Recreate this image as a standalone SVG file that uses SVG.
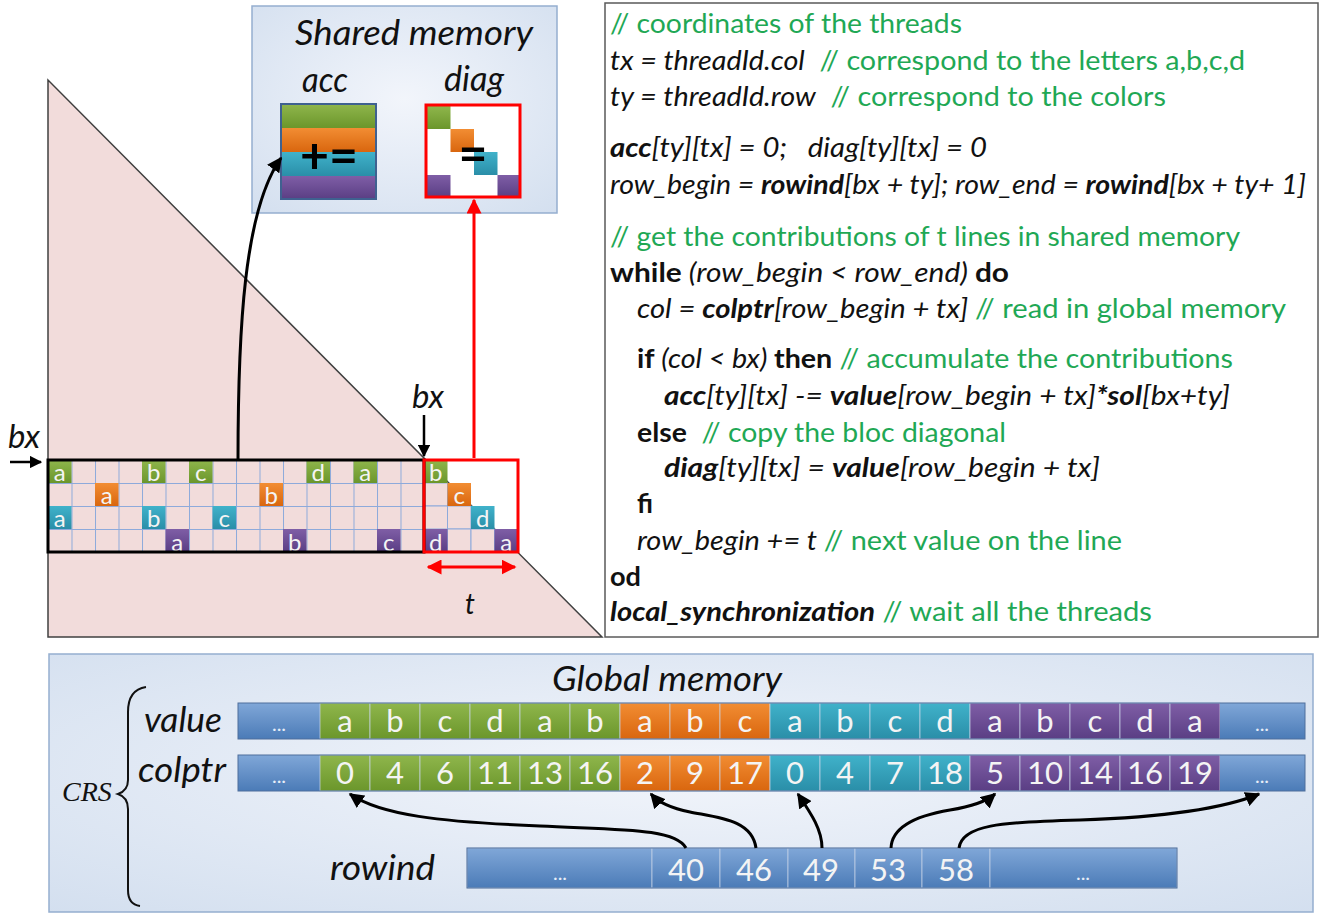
<svg xmlns="http://www.w3.org/2000/svg" width="1326" height="915" viewBox="0 0 1326 915">
<style>
.f{font-family:Lato,"Open Sans","Liberation Sans",sans-serif}
.it{font-style:italic}
.bi{font-style:italic;font-weight:bold}
.b{font-weight:bold}
.cm{fill:#1fa855}
.cl{font-family:Lato,"Open Sans","Liberation Sans",sans-serif;font-size:24px;fill:#f4f4f4;text-anchor:middle}
.gl{font-family:Lato,"Open Sans","Liberation Sans",sans-serif;font-size:31px;fill:#f4f4f4;text-anchor:middle}
.dots{font-family:Lato,"Open Sans","Liberation Sans",sans-serif;font-size:20px;fill:#e8eef8;text-anchor:middle}
.lab{font-family:Lato,"Open Sans","Liberation Sans",sans-serif;font-style:italic;fill:#111}
.pc{fill:#f2dcdb;stroke:#8eaadb;stroke-width:1}
.cs{stroke:#c9d6e8;stroke-width:1;stroke-opacity:0.7}
</style>
<defs>
<linearGradient id="gG" x1="0" y1="0" x2="0" y2="1"><stop offset="0" stop-color="#8fb64c"/><stop offset="1" stop-color="#6b962b"/></linearGradient>
<linearGradient id="gO" x1="0" y1="0" x2="0" y2="1"><stop offset="0" stop-color="#f28d33"/><stop offset="1" stop-color="#d9660e"/></linearGradient>
<linearGradient id="gT" x1="0" y1="0" x2="0" y2="1"><stop offset="0" stop-color="#40b2ca"/><stop offset="1" stop-color="#2a8ea8"/></linearGradient>
<linearGradient id="gP" x1="0" y1="0" x2="0" y2="1"><stop offset="0" stop-color="#7f5ea6"/><stop offset="1" stop-color="#5a3e84"/></linearGradient>
<linearGradient id="gB" x1="0" y1="0" x2="0" y2="1"><stop offset="0" stop-color="#80a7d8"/><stop offset="1" stop-color="#4b7bb7"/></linearGradient>
<radialGradient id="bgBlue" cx="0.5" cy="0.45" r="0.75"><stop offset="0" stop-color="#f2f5fb"/><stop offset="1" stop-color="#d3dfef"/></radialGradient>
<pattern id="grid" x="48" y="460" width="23.5" height="23" patternUnits="userSpaceOnUse"><rect width="23.5" height="23" fill="#f2dcdb"/><path d="M0,0 V23 M0,0 H23.5" stroke="#8eaadb" stroke-width="2"/></pattern>
<marker id="ah" viewBox="0 0 10 10" refX="9" refY="5" markerWidth="5" markerHeight="5" orient="auto-start-reverse" markerUnits="strokeWidth"><path d="M0,0 L10,5 L0,10 z" fill="#000"/></marker>
<marker id="ahr" viewBox="0 0 10 10" refX="9" refY="5" markerWidth="5" markerHeight="5" orient="auto-start-reverse" markerUnits="strokeWidth"><path d="M0,0 L10,5 L0,10 z" fill="#f00"/></marker>
</defs>
<rect width="1326" height="915" fill="#fff"/>

<g id="matrix">
<polygon points="48,80 48,637 602,637" fill="#f2dcdb" stroke="#404040" stroke-width="1.5"/>
<rect x="48" y="460" width="376" height="92" fill="url(#grid)"/>
<rect class="pc" x="424" y="483" width="23.5" height="23"/>
<rect class="pc" x="424" y="506" width="23.5" height="23"/>
<rect class="pc" x="447.5" y="506" width="23.5" height="23"/>
<rect class="pc" x="447.5" y="529" width="23.5" height="23"/>
<rect class="pc" x="471" y="529" width="23.5" height="23"/>
<g id="cells">
<rect x="48" y="460" width="23.5" height="23" fill="url(#gG)"/><text class="cl" x="59.7" y="481">a</text>
<rect x="142" y="460" width="23.5" height="23" fill="url(#gG)"/><text class="cl" x="153.7" y="481">b</text>
<rect x="189" y="460" width="23.5" height="23" fill="url(#gG)"/><text class="cl" x="200.7" y="481">c</text>
<rect x="306.5" y="460" width="23.5" height="23" fill="url(#gG)"/><text class="cl" x="318.2" y="481">d</text>
<rect x="353.5" y="460" width="23.5" height="23" fill="url(#gG)"/><text class="cl" x="365.2" y="481">a</text>
<rect x="424" y="460" width="23.5" height="23" fill="url(#gG)"/><text class="cl" x="435.7" y="481">b</text>
<rect x="95" y="483" width="23.5" height="23" fill="url(#gO)"/><text class="cl" x="106.7" y="504">a</text>
<rect x="259.5" y="483" width="23.5" height="23" fill="url(#gO)"/><text class="cl" x="271.2" y="504">b</text>
<rect x="447.5" y="483" width="23.5" height="23" fill="url(#gO)"/><text class="cl" x="459.2" y="504">c</text>
<rect x="48" y="506" width="23.5" height="23" fill="url(#gT)"/><text class="cl" x="59.7" y="527">a</text>
<rect x="142" y="506" width="23.5" height="23" fill="url(#gT)"/><text class="cl" x="153.7" y="527">b</text>
<rect x="212.5" y="506" width="23.5" height="23" fill="url(#gT)"/><text class="cl" x="224.2" y="527">c</text>
<rect x="471" y="506" width="23.5" height="23" fill="url(#gT)"/><text class="cl" x="482.7" y="527">d</text>
<rect x="165.5" y="529" width="23.5" height="23" fill="url(#gP)"/><text class="cl" x="177.2" y="551">a</text>
<rect x="283" y="529" width="23.5" height="23" fill="url(#gP)"/><text class="cl" x="294.7" y="551">b</text>
<rect x="377" y="529" width="23.5" height="23" fill="url(#gP)"/><text class="cl" x="388.7" y="551">c</text>
<rect x="424" y="529" width="23.5" height="23" fill="url(#gP)"/><text class="cl" x="435.7" y="551">d</text>
<rect x="494.5" y="529" width="23.5" height="23" fill="url(#gP)"/><text class="cl" x="506.2" y="551">a</text>
</g>
<rect x="48" y="460" width="376" height="92" fill="none" stroke="#000" stroke-width="3"/>
<rect x="424" y="460" width="94" height="92" fill="none" stroke="#f00" stroke-width="3"/>
<text class="lab" x="8" y="448" font-size="32" textLength="32" lengthAdjust="spacingAndGlyphs">bx</text>
<text class="lab" x="412" y="408" font-size="32" textLength="32" lengthAdjust="spacingAndGlyphs">bx</text>
<text class="lab" x="465" y="614" font-size="28">t</text>
</g>

<g id="shared">
<rect x="252" y="6" width="305" height="207" fill="url(#bgBlue)" stroke="#95aecf" stroke-width="1.5"/>
<text class="lab" x="295" y="45" font-size="35" textLength="238" lengthAdjust="spacingAndGlyphs">Shared memory</text>
<text class="lab" x="302" y="92" font-size="35" textLength="46" lengthAdjust="spacingAndGlyphs">acc</text>
<text class="lab" x="444" y="91" font-size="35" textLength="60" lengthAdjust="spacingAndGlyphs">diag</text>
<g id="acc">
<rect x="281" y="104" width="95" height="24" fill="url(#gG)"/>
<rect x="281" y="128" width="95" height="24" fill="url(#gO)"/>
<rect x="281" y="152" width="95" height="24" fill="url(#gT)"/>
<rect x="281" y="176" width="95" height="23" fill="url(#gP)"/>
<rect x="281" y="104" width="95" height="95" fill="none" stroke="#3f6190" stroke-width="2"/>
<text class="f" x="329" y="173" font-size="50" font-weight="bold" text-anchor="middle" fill="#000">+=</text>
</g>
<g id="diag">
<rect x="426" y="105" width="94" height="92" fill="#fff"/>
<rect x="427" y="106" width="23.5" height="23" fill="url(#gG)"/>
<rect x="450.5" y="129" width="23.5" height="23" fill="url(#gO)"/>
<rect x="474" y="152" width="23.5" height="23" fill="url(#gT)"/>
<rect x="427" y="175" width="23.5" height="22" fill="url(#gP)"/>
<rect x="497.5" y="175" width="22" height="22" fill="url(#gP)"/>
<text class="f" x="473" y="171" font-size="50" font-weight="bold" text-anchor="middle" fill="#000">=</text>
<rect x="426" y="105" width="94" height="92" fill="none" stroke="#f00" stroke-width="3"/>
</g>
</g>

<g id="code" class="f" font-size="27" fill="#111">
<rect x="605" y="3" width="713" height="634" fill="#fff" stroke="#5a5a5a" stroke-width="1.5"/>
<text x="610" y="33" class="cm" textLength="352" lengthAdjust="spacingAndGlyphs">// coordinates of the threads</text>
<text x="610" y="70" textLength="635" lengthAdjust="spacingAndGlyphs" xml:space="preserve"><tspan class="it">tx = threadId.col</tspan><tspan class="cm">  // correspond to the letters a,b,c,d</tspan></text>
<text x="610" y="106" textLength="556" lengthAdjust="spacingAndGlyphs" xml:space="preserve"><tspan class="it">ty = threadId.row</tspan><tspan class="cm">  // correspond to the colors</tspan></text>
<text x="610" y="157" textLength="377" lengthAdjust="spacingAndGlyphs" xml:space="preserve"><tspan class="bi">acc</tspan><tspan class="it">[ty][tx] = 0;   diag[ty][tx] = 0</tspan></text>
<text x="610" y="194" textLength="696" lengthAdjust="spacingAndGlyphs" xml:space="preserve"><tspan class="it">row_begin = </tspan><tspan class="bi">rowind</tspan><tspan class="it">[bx + ty]; row_end = </tspan><tspan class="bi">rowind</tspan><tspan class="it">[bx + ty+ 1]</tspan></text>
<text x="610" y="246" class="cm" textLength="630" lengthAdjust="spacingAndGlyphs">// get the contributions of t lines in shared memory</text>
<text x="610" y="282" textLength="399" lengthAdjust="spacingAndGlyphs" xml:space="preserve"><tspan class="b">while</tspan><tspan class="it"> (row_begin &lt; row_end) </tspan><tspan class="b">do</tspan></text>
<text x="637" y="318" textLength="649" lengthAdjust="spacingAndGlyphs" xml:space="preserve"><tspan class="it">col = </tspan><tspan class="bi">colptr</tspan><tspan class="it">[row_begin + tx] </tspan><tspan class="cm">// read in global memory</tspan></text>
<text x="637" y="368" textLength="596" lengthAdjust="spacingAndGlyphs" xml:space="preserve"><tspan class="b">if</tspan><tspan class="it"> (col &lt; bx) </tspan><tspan class="b">then</tspan><tspan class="cm"> // accumulate the contributions</tspan></text>
<text x="664" y="405" textLength="566" lengthAdjust="spacingAndGlyphs" xml:space="preserve"><tspan class="bi">acc</tspan><tspan class="it">[ty][tx] -= </tspan><tspan class="bi">value</tspan><tspan class="it">[row_begin + tx]</tspan><tspan class="bi">*sol</tspan><tspan class="it">[bx+ty]</tspan></text>
<text x="637" y="442" textLength="369" lengthAdjust="spacingAndGlyphs" xml:space="preserve"><tspan class="b">else</tspan><tspan class="cm">  // copy the bloc diagonal</tspan></text>
<text x="664" y="477" textLength="436" lengthAdjust="spacingAndGlyphs" xml:space="preserve"><tspan class="bi">diag</tspan><tspan class="it">[ty][tx] = </tspan><tspan class="bi">value</tspan><tspan class="it">[row_begin + tx]</tspan></text>
<text x="637" y="513" class="b" textLength="16" lengthAdjust="spacingAndGlyphs">fi</text>
<text x="637" y="550" textLength="485" lengthAdjust="spacingAndGlyphs" xml:space="preserve"><tspan class="it">row_begin += t </tspan><tspan class="cm">// next value on the line</tspan></text>
<text x="610" y="586" class="b" textLength="31" lengthAdjust="spacingAndGlyphs">od</text>
<text x="610" y="621" textLength="542" lengthAdjust="spacingAndGlyphs" xml:space="preserve"><tspan class="bi">local_synchronization</tspan><tspan class="cm"> // wait all the threads</tspan></text>
</g>

<g id="global">
<rect x="49" y="654" width="1264" height="258" fill="url(#bgBlue)" stroke="#95aecf" stroke-width="1.5"/>
<text class="lab" x="552" y="691" font-size="34" textLength="230" lengthAdjust="spacingAndGlyphs">Global memory</text>
<text class="lab" x="144" y="732" font-size="34" textLength="78" lengthAdjust="spacingAndGlyphs">value</text>
<text class="lab" x="138" y="782" font-size="34" textLength="88" lengthAdjust="spacingAndGlyphs">colptr</text>
<text x="62" y="801" font-family="'Liberation Serif',serif" font-style="italic" font-size="28" fill="#111">CRS</text>
<path d="M146,687 C133,689 128,698 128,712 L128,780 C128,788 124,792 118,794 C124,796 128,801 128,809 L128,890 C128,900 132,905 140,906" fill="none" stroke="#111" stroke-width="2"/>
<g id="valueRow">
<rect x="238" y="703" width="82" height="36" fill="url(#gB)"/>
<rect class="cs" x="320" y="703" width="50" height="36" fill="url(#gG)"/>
<rect class="cs" x="370" y="703" width="50" height="36" fill="url(#gG)"/>
<rect class="cs" x="420" y="703" width="50" height="36" fill="url(#gG)"/>
<rect class="cs" x="470" y="703" width="50" height="36" fill="url(#gG)"/>
<rect class="cs" x="520" y="703" width="50" height="36" fill="url(#gG)"/>
<rect class="cs" x="570" y="703" width="50" height="36" fill="url(#gG)"/>
<rect class="cs" x="620" y="703" width="50" height="36" fill="url(#gO)"/>
<rect class="cs" x="670" y="703" width="50" height="36" fill="url(#gO)"/>
<rect class="cs" x="720" y="703" width="50" height="36" fill="url(#gO)"/>
<rect class="cs" x="770" y="703" width="50" height="36" fill="url(#gT)"/>
<rect class="cs" x="820" y="703" width="50" height="36" fill="url(#gT)"/>
<rect class="cs" x="870" y="703" width="50" height="36" fill="url(#gT)"/>
<rect class="cs" x="920" y="703" width="50" height="36" fill="url(#gT)"/>
<rect class="cs" x="970" y="703" width="50" height="36" fill="url(#gP)"/>
<rect class="cs" x="1020" y="703" width="50" height="36" fill="url(#gP)"/>
<rect class="cs" x="1070" y="703" width="50" height="36" fill="url(#gP)"/>
<rect class="cs" x="1120" y="703" width="50" height="36" fill="url(#gP)"/>
<rect class="cs" x="1170" y="703" width="50" height="36" fill="url(#gP)"/>
<rect x="1220" y="703" width="85" height="36" fill="url(#gB)"/>
<rect x="238" y="703" width="1067" height="36" fill="none" stroke="#4f6f9c" stroke-width="1"/>
<text class="dots" x="279" y="731">...</text>
<text class="gl" x="345" y="732">a</text><text class="gl" x="395" y="732">b</text><text class="gl" x="445" y="732">c</text><text class="gl" x="495" y="732">d</text><text class="gl" x="545" y="732">a</text><text class="gl" x="595" y="732">b</text>
<text class="gl" x="645" y="732">a</text><text class="gl" x="695" y="732">b</text><text class="gl" x="745" y="732">c</text>
<text class="gl" x="795" y="732">a</text><text class="gl" x="845" y="732">b</text><text class="gl" x="895" y="732">c</text><text class="gl" x="945" y="732">d</text>
<text class="gl" x="995" y="732">a</text><text class="gl" x="1045" y="732">b</text><text class="gl" x="1095" y="732">c</text><text class="gl" x="1145" y="732">d</text><text class="gl" x="1195" y="732">a</text>
<text class="dots" x="1262" y="731">...</text>
</g>
<g id="colptrRow">
<rect x="238" y="755" width="82" height="36" fill="url(#gB)"/>
<rect class="cs" x="320" y="755" width="50" height="36" fill="url(#gG)"/>
<rect class="cs" x="370" y="755" width="50" height="36" fill="url(#gG)"/>
<rect class="cs" x="420" y="755" width="50" height="36" fill="url(#gG)"/>
<rect class="cs" x="470" y="755" width="50" height="36" fill="url(#gG)"/>
<rect class="cs" x="520" y="755" width="50" height="36" fill="url(#gG)"/>
<rect class="cs" x="570" y="755" width="50" height="36" fill="url(#gG)"/>
<rect class="cs" x="620" y="755" width="50" height="36" fill="url(#gO)"/>
<rect class="cs" x="670" y="755" width="50" height="36" fill="url(#gO)"/>
<rect class="cs" x="720" y="755" width="50" height="36" fill="url(#gO)"/>
<rect class="cs" x="770" y="755" width="50" height="36" fill="url(#gT)"/>
<rect class="cs" x="820" y="755" width="50" height="36" fill="url(#gT)"/>
<rect class="cs" x="870" y="755" width="50" height="36" fill="url(#gT)"/>
<rect class="cs" x="920" y="755" width="50" height="36" fill="url(#gT)"/>
<rect class="cs" x="970" y="755" width="50" height="36" fill="url(#gP)"/>
<rect class="cs" x="1020" y="755" width="50" height="36" fill="url(#gP)"/>
<rect class="cs" x="1070" y="755" width="50" height="36" fill="url(#gP)"/>
<rect class="cs" x="1120" y="755" width="50" height="36" fill="url(#gP)"/>
<rect class="cs" x="1170" y="755" width="50" height="36" fill="url(#gP)"/>
<rect x="1220" y="755" width="85" height="36" fill="url(#gB)"/>
<rect x="238" y="755" width="1067" height="36" fill="none" stroke="#4f6f9c" stroke-width="1"/>
<text class="dots" x="279" y="783">...</text>
<text class="gl" x="345" y="784">0</text><text class="gl" x="395" y="784">4</text><text class="gl" x="445" y="784">6</text><text class="gl" x="495" y="784">11</text><text class="gl" x="545" y="784">13</text><text class="gl" x="595" y="784">16</text>
<text class="gl" x="645" y="784">2</text><text class="gl" x="695" y="784">9</text><text class="gl" x="745" y="784">17</text>
<text class="gl" x="795" y="784">0</text><text class="gl" x="845" y="784">4</text><text class="gl" x="895" y="784">7</text><text class="gl" x="945" y="784">18</text>
<text class="gl" x="995" y="784">5</text><text class="gl" x="1045" y="784">10</text><text class="gl" x="1095" y="784">14</text><text class="gl" x="1145" y="784">16</text><text class="gl" x="1195" y="784">19</text>
<text class="dots" x="1262" y="783">...</text>
</g>
<g id="rowindRow">
<text class="lab" x="330" y="880" font-size="34" textLength="105" lengthAdjust="spacingAndGlyphs">rowind</text>
<rect class="cs" x="467" y="848" width="185" height="40" fill="url(#gB)"/>
<rect class="cs" x="652" y="848" width="68" height="40" fill="url(#gB)"/>
<rect class="cs" x="720" y="848" width="68" height="40" fill="url(#gB)"/>
<rect class="cs" x="788" y="848" width="67" height="40" fill="url(#gB)"/>
<rect class="cs" x="855" y="848" width="67" height="40" fill="url(#gB)"/>
<rect class="cs" x="922" y="848" width="68" height="40" fill="url(#gB)"/>
<rect class="cs" x="990" y="848" width="187" height="40" fill="url(#gB)"/>
<rect x="467" y="848" width="710" height="40" fill="none" stroke="#4f6f9c" stroke-width="1"/>
<text class="dots" x="560" y="880">...</text>
<text class="gl" x="686" y="881">40</text><text class="gl" x="754" y="881">46</text><text class="gl" x="821" y="881">49</text><text class="gl" x="888" y="881">53</text><text class="gl" x="956" y="881">58</text>
<text class="dots" x="1083" y="880">...</text>
</g>
</g>

<g id="connectors" fill="none">
<path d="M238,460 C238,330 244,210 281,158" stroke="#000" stroke-width="3" marker-end="url(#ah)"/>
<path d="M474,458 L474,200" stroke="#f00" stroke-width="3" marker-end="url(#ahr)"/>
<path d="M428,567 L515,567" stroke="#f00" stroke-width="3" marker-start="url(#ahr)" marker-end="url(#ahr)"/>
<path d="M10,462 L41,462" stroke="#000" stroke-width="2.5" marker-end="url(#ah)"/>
<path d="M424,415 L424,456" stroke="#000" stroke-width="2.5" marker-end="url(#ah)"/>
<path d="M686,848 C675,828 620,830 540,826 C440,822 380,815 350,794" stroke="#000" stroke-width="3" marker-end="url(#ah)"/>
<path d="M756,848 C752,820 720,818 690,812 C670,808 658,802 651,794" stroke="#000" stroke-width="3" marker-end="url(#ah)"/>
<path d="M822,848 C822,830 812,815 798,794" stroke="#000" stroke-width="3" marker-end="url(#ah)"/>
<path d="M891,848 C892,825 920,815 950,810 C975,806 988,800 995,794" stroke="#000" stroke-width="3" marker-end="url(#ah)"/>
<path d="M959,848 C962,825 1000,822 1080,820 C1170,817 1225,808 1259,794" stroke="#000" stroke-width="3" marker-end="url(#ah)"/>
</g>
</svg>
